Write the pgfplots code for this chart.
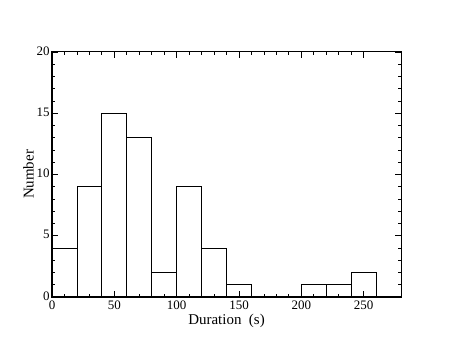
\documentclass[border=0pt]{standalone}
\usepackage{pgfplots}
\pgfplotsset{compat=1.18}
\usepackage{fontspec}
\setmainfont{Liberation Serif}
\begin{document}
\begin{tikzpicture}
\begin{axis}[
  width=349bp, height=245bp, scale only axis,
  axis on top,
  xmin=0, xmax=280, ymin=0, ymax=20,
  xtick={0,50,100,150,200,250},
  ytick={0,5,10,15,20},
  minor x tick num=4,
  minor y tick num=4,
  tick align=inside,
  major tick length=6bp,
  minor tick length=3bp,
  axis line style={line width=1.1pt},
  every tick/.style={black, line width=0.8pt},
  tick label style={font=\fontsize{13}{14}\selectfont},
  label style={font=\fontsize{15}{16}\selectfont},
  /pgf/number format/assume math mode=true,
  xlabel={Duration\ \ (s)},
  ylabel={Number},
  xlabel style={yshift=2bp},
  ylabel style={yshift=-4bp},
  xticklabel style={yshift=0bp},
  yticklabel style={xshift=1bp, yshift=1bp},
  clip=false,
]
\addplot[ybar interval, draw=black, fill=white, line width=0.8pt] coordinates {
(0,4) (20,9) (40,15) (60,13) (80,2) (100,9) (120,4) (140,1) (160,1)
};
\addplot[ybar interval, draw=black, fill=white, line width=0.8pt] coordinates {
(200,1) (220,1) (240,2) (260,2)
};
\path (rel axis cs:-0.149,-0.212) rectangle (rel axis cs:1.143,1.212);
\end{axis}
\end{tikzpicture}
\end{document}
